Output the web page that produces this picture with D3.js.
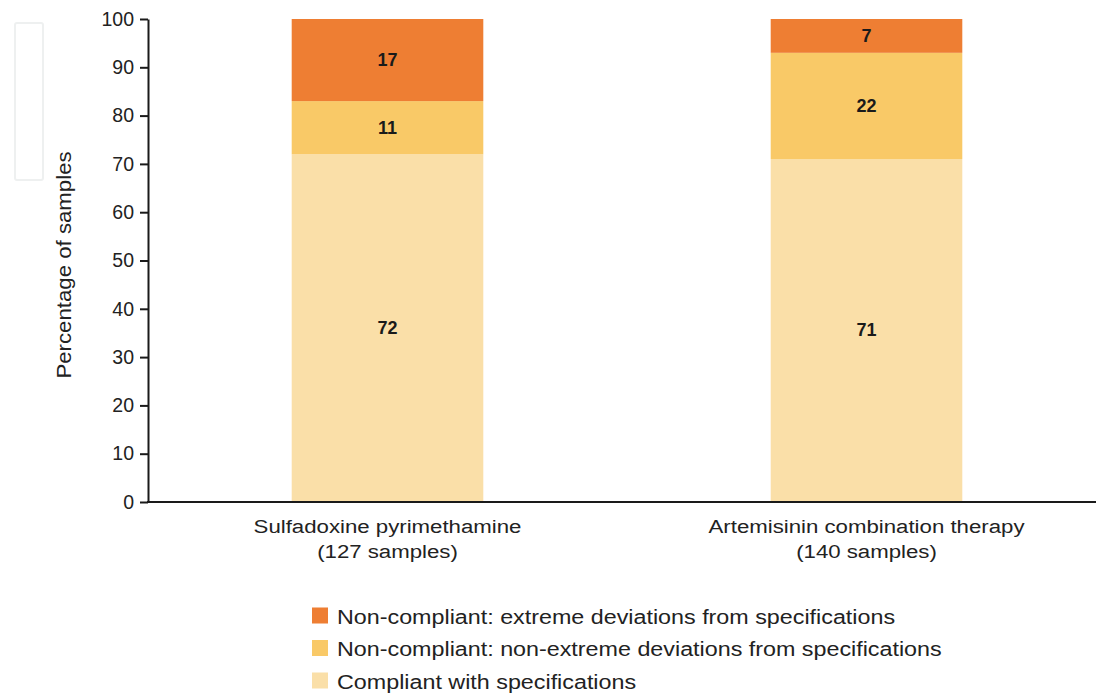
<!DOCTYPE html>
<html><head><meta charset="utf-8">
<script src="https://cdn.jsdelivr.net/npm/d3@7"></script>
<style>body{margin:0;background:#fff;}svg{display:block;font-family:"Liberation Sans",Arial,sans-serif;}</style>
</head><body>
<svg id="c" width="1096" height="695"></svg>
<script>
const categories = ["Sulfadoxine pyrimethamine", "Artemisinin combination therapy"];
const sampleLabels = ["(127 samples)", "(140 samples)"];
const seriesNames = ["Compliant with specifications", "Non-compliant: non-extreme deviations from specifications", "Non-compliant: extreme deviations from specifications"];
const compliant = [72, 71];
const nonExtreme = [11, 22];
const extreme = [17, 7];
const yTicks = [0,10,20,30,40,50,60,70,80,90,100];
const colors = ["#FADFA8", "#F9C967", "#EE7E33"];

const svg = d3.select("#c");
const x = d3.scaleBand().domain(categories).range([148, 1106]).paddingInner(0.6).paddingOuter(0.3);
const y = d3.scaleLinear().domain([0, 100]).range([502, 19]);

const rows = categories.map((c, i) => ({cat: c, s0: compliant[i], s1: nonExtreme[i], s2: extreme[i]}));
const stack = d3.stack().keys(["s0","s1","s2"])(rows);

// horizontally stretched text helper
function wideText(parent, tx, ty, rot, sx, size, anchor, str) {
  const g = parent.append("g").attr("transform", `translate(${tx},${ty}) rotate(${rot}) scale(${sx},1)`);
  return g.append("text").attr("text-anchor", anchor).attr("font-size", size).attr("fill", "#222").text(str);
}

// faint box top-left
svg.append("rect").attr("x",15).attr("y",23).attr("width",28).attr("height",157).attr("rx",2)
  .attr("fill","none").attr("stroke","#eef0f0").attr("stroke-width",2);

stack.forEach((layer, li) => {
  const g = svg.append("g");
  g.selectAll("rect").data(layer).join("rect")
    .attr("x", d => x(d.data.cat)).attr("width", x.bandwidth())
    .attr("y", d => y(d[1])).attr("height", d => y(d[0]) - y(d[1]))
    .attr("fill", colors[li]);
  g.selectAll("text").data(layer).join("text")
    .attr("x", d => x(d.data.cat) + x.bandwidth()/2)
    .attr("y", d => (y(d[0]) + y(d[1]))/2)
    .attr("dy", "0.33em").attr("text-anchor","middle")
    .attr("font-weight","bold").attr("font-size",18).attr("fill","#1a1a1a")
    .text(d => d[1] - d[0]);
});

// y axis
const yAxis = svg.append("g").attr("transform","translate(148,0)")
  .call(d3.axisLeft(y).tickValues(yTicks).tickSize(8).tickPadding(6).tickSizeOuter(0));
yAxis.select(".domain").attr("stroke","#1a1a1a").attr("stroke-width",2);
yAxis.selectAll(".tick line").attr("stroke","#1a1a1a").attr("stroke-width",2);
yAxis.selectAll(".tick text").attr("font-size",19.5).attr("fill","#222").attr("font-family","Liberation Sans, Arial, sans-serif");

// x axis line
svg.append("line").attr("x1",147).attr("x2",1096).attr("y1",y(0)).attr("y2",y(0))
  .attr("stroke","#1a1a1a").attr("stroke-width",2);

// category labels
categories.forEach((c, i) => {
  const cx = x(c) + x.bandwidth()/2;
  wideText(svg, cx, 533, 0, 1.17, 19, "middle", c);
  wideText(svg, cx, 558, 0, 1.17, 19, "middle", sampleLabels[i]);
});

// y title
wideText(svg, 71, 265, -90, 1.14, 19.5, "middle", "Percentage of samples");

// legend
const legendOrder = [2,1,0];
legendOrder.forEach((si, k) => {
  const base = 623.5 + k*32.5;
  svg.append("rect").attr("x",312).attr("y",base-16).attr("width",16).attr("height",16).attr("fill",colors[si]);
  wideText(svg, 337, base, 0, 1.11, 21, "start", seriesNames[si]);
});
</script>
</body></html>
